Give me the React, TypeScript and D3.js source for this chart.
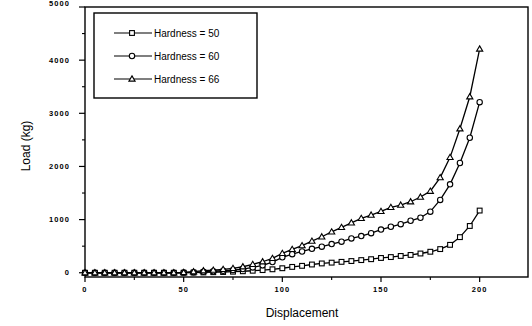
import React from 'react';
import * as d3 from 'd3';

const displacement = [0, 5, 10, 15, 20, 25, 30, 35, 40, 45, 50, 55, 60, 65, 70, 75, 80, 85, 90, 95, 100, 105, 110, 115, 120, 125, 130, 135, 140, 145, 150, 155, 160, 165, 170, 175, 180, 185, 190, 195, 200];
const hardness50 = [0, 0, 0, 0, 0, 0, 0, 0, 0, 0, 0, 3, 6, 10, 14, 20, 28, 38, 50, 65, 85, 110, 130, 155, 175, 190, 205, 220, 238, 255, 278, 295, 316, 335, 362, 395, 445, 525, 670, 880, 1170];
const hardness60 = [0, 0, 0, 0, 0, 0, 0, 0, 0, 0, 3, 10, 18, 28, 38, 50, 70, 100, 140, 200, 290, 350, 400, 450, 490, 540, 585, 645, 690, 745, 812, 865, 913, 978, 1035, 1150, 1370, 1663, 2065, 2540, 3210];
const hardness66 = [0, 0, 0, 0, 0, 0, 0, 0, 0, 0, 5, 20, 38, 50, 64, 83, 113, 158, 207, 270, 365, 440, 510, 595, 677, 770, 854, 940, 1024, 1086, 1155, 1230, 1274, 1336, 1425, 1535, 1790, 2171, 2710, 3312, 4210];
const seriesNames = ['Hardness = 50', 'Hardness = 60', 'Hardness = 66'];
const seriesMarkers = ['square', 'circle', 'triangle'];
const xTickValues = [0, 50, 100, 150, 200];
const xMinorTicks = [25, 75, 125, 175];
const yTickValues = [0, 1000, 2000, 3000, 4000, 5000];
const yMinorTicks = [500, 1500, 2500, 3500, 4500];

const W = 532;
const H = 326;
const FONT = '"Liberation Sans", Arial, Helvetica, sans-serif';

function Marker({ type, x, y }: { type: string; x: number; y: number }) {
  const common = { fill: '#fff', stroke: '#000', strokeWidth: 1.1 };
  if (type === 'square') return <rect x={x - 2.4} y={y - 2.4} width={4.8} height={4.8} {...common} />;
  if (type === 'circle') return <circle cx={x} cy={y} r={2.7} {...common} />;
  const s = 3.1;
  return <path d={`M${x},${y - s}L${x + s},${y + s * 0.7}L${x - s},${y + s * 0.7}Z`} {...common} />;
}

export default function App() {
  const x = d3.scaleLinear().domain([0, 224.5]).range([85, 528]);
  const y = d3.scaleLinear().domain([-80, 5000]).range([277, 7]);
  const all = [hardness50, hardness60, hardness66];
  const line = d3
    .line<number>()
    .x((_, i) => x(displacement[i]))
    .y((d) => y(d));

  const [x0, x1] = x.range();
  const [y0, y1] = y.range();

  return (
    <svg width={W} height={H} style={{ position: 'absolute', left: 0, top: 0, background: '#fff' }} fontFamily={FONT}>
      <rect x={0} y={0} width={W} height={H} fill="#fff" />
      {/* frame */}
      <rect x={x0} y={y1} width={x1 - x0} height={y0 - y1} fill="none" stroke="#000" strokeWidth={1.4} />
      {/* y ticks */}
      {yTickValues.map((v) => (
        <g key={'yt' + v}>
          <line x1={x0 - 6} x2={x0} y1={y(v)} y2={y(v)} stroke="#000" strokeWidth={1.2} />
          <text x={70} y={y(v) - (v === 5000 ? 4 : 0)} dy="0.35em" textAnchor="end" fontSize={7.5} fontWeight="bold" letterSpacing={1.1}>
            {v}
          </text>
        </g>
      ))}
      {yMinorTicks.map((v) => (
        <line key={'ym' + v} x1={x0 - 3} x2={x0} y1={y(v)} y2={y(v)} stroke="#000" strokeWidth={1.1} />
      ))}
      {/* x ticks */}
      {xTickValues.map((v) => (
        <g key={'xt' + v}>
          <line x1={x(v)} x2={x(v)} y1={y0} y2={y0 + 5} stroke="#000" strokeWidth={1.2} />
          <text x={x(v)} y={289} dy="0.35em" textAnchor="middle" fontSize={7.5} fontWeight="bold" letterSpacing={1.1}>
            {v}
          </text>
        </g>
      ))}
      {xMinorTicks.map((v) => (
        <line key={'xm' + v} x1={x(v)} x2={x(v)} y1={y0} y2={y0 + 3} stroke="#000" strokeWidth={1.1} />
      ))}
      {/* axis titles */}
      <text x={302} y={313} dy="0.35em" textAnchor="middle" fontSize={12}>
        Displacement
      </text>
      <text transform={`translate(26,146) rotate(-90)`} textAnchor="middle" dy="0.35em" fontSize={12}>
        Load (kg)
      </text>
      {/* series */}
      {all.map((vals, si) => (
        <g key={'s' + si}>
          <path d={line(vals) || ''} fill="none" stroke="#000" strokeWidth={1.3} />
          {vals.map((v, i) => (
            <Marker key={i} type={seriesMarkers[si]} x={x(displacement[i])} y={y(v)} />
          ))}
        </g>
      ))}
      {/* legend */}
      <rect x={94} y={13} width={163} height={85} fill="#fff" stroke="#000" strokeWidth={1.4} />
      {seriesNames.map((name, i) => {
        const ly = 33 + i * 23;
        return (
          <g key={'lg' + i}>
            <line x1={114} x2={152} y1={ly} y2={ly} stroke="#000" strokeWidth={1.2} />
            <Marker type={seriesMarkers[i]} x={132} y={ly} />
            <text x={154} y={ly} dy="0.35em" fontSize={10}>
              {name}
            </text>
          </g>
        );
      })}
    </svg>
  );
}
